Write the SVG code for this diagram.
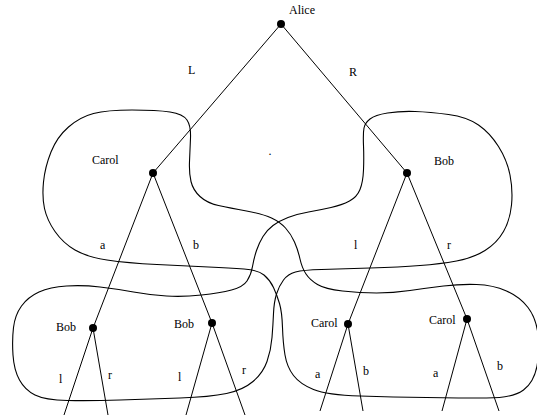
<svg xmlns="http://www.w3.org/2000/svg" width="537" height="419" viewBox="0 0 537 419">
<style>
.t{font-family:"Liberation Serif","Times New Roman",serif;font-size:12px;fill:#000}
.e{stroke:#000;stroke-width:1;fill:none}
.b{stroke:#000;stroke-width:1.1;fill:none}
.d{fill:#000}
</style>
<rect width="537" height="419" fill="#fff"/>
<g id="infosets">
<path id="carol-set" class="b" d="M93.5,113.5 Q107,110 132,110 Q157,110 170,112 Q183,114 187,120 Q191,126 190.5,138 Q190,150 189.5,161.5 Q189,173 191,181.5 Q193,190 200,196.5 Q207,203 218.5,205.5 Q230,208 246.5,211 Q263,214 271.5,218 Q280,222 285.5,228 Q291,234 294.5,242 Q298,250 300,259 Q302,268 306,274 Q310,280 317.5,284.5 Q325,289 342.5,291 Q360,293 376.5,293 Q393,293 410,290.5 Q427,288 443.5,286 Q460,284 476.5,284.5 Q493,285 506.5,291 Q520,297 528,307.5 Q536,318 538,334 Q540,350 537,366 Q534,382 523.5,390 Q513,398 486.5,398 Q460,398 426.5,397.5 Q393,397 360,396 Q327,395 313.5,389.5 Q300,384 293.5,375.5 Q287,367 285,355 Q283,343 282.5,327.5 Q282,312 279.5,303.5 Q277,295 273.5,287.5 Q270,280 264,275 Q258,270 244,269 Q230,268 208.5,267 Q187,266 157,264.5 Q127,263 107,260 Q87,257 75,250 Q63,243 55,231.5 Q47,220 44.5,208.5 Q42,197 43.5,182 Q45,167 51,152 Q57,137 68.5,127 Q80,117 93.5,113.5 Z"/>
<path id="bob-set" class="b" d="M364,128 Q365,123 370,119 Q375,115 387.5,113 Q400,111 415,111.5 Q430,112 448.5,114.5 Q467,117 478.5,125 Q490,133 498.5,146.5 Q507,160 510,175 Q513,190 511.5,205 Q510,220 503.5,231.5 Q497,243 485,250.5 Q473,258 456.5,261 Q440,264 420,265.5 Q400,267 370,268 Q340,269 321.5,269.5 Q303,270 295.5,272 Q288,274 283.5,280 Q279,286 276.5,294 Q274,302 273.5,313.5 Q273,325 272,337.5 Q271,350 267,361.5 Q263,373 253,381.5 Q243,390 226.5,393.5 Q210,397 180,398 Q150,399 120,400 Q90,401 67.5,400.5 Q45,400 35,395 Q25,390 19.5,380 Q14,370 13,355 Q12,340 13.5,327.5 Q15,315 21.5,306 Q28,297 39,292 Q50,287 66.5,286 Q83,285 100,287 Q117,289 133.5,292 Q150,295 166.5,296 Q183,297 201.5,295 Q220,293 231.5,290 Q243,287 247,281 Q251,275 252.5,266.5 Q254,258 256.5,250.5 Q259,243 263,236.5 Q267,230 273,225.5 Q279,221 288,217.5 Q297,214 308.5,212 Q320,210 331,207.5 Q342,205 349.5,201 Q357,197 360,189.5 Q363,182 363.5,170 Q364,158 363.5,145.5 Q363,133 364,128 Z"/>
</g>
<g id="connectors">
<line class="e" x1="281" y1="24" x2="153" y2="173"/>
<line class="e" x1="281" y1="24" x2="407" y2="173"/>
<line class="e" x1="153" y1="173" x2="93" y2="328"/>
<line class="e" x1="153" y1="173" x2="212" y2="323"/>
<line class="e" x1="407" y1="173" x2="348" y2="324"/>
<line class="e" x1="407" y1="173" x2="467" y2="319"/>
<line class="e" x1="93" y1="328" x2="64" y2="415"/>
<line class="e" x1="93" y1="328" x2="108" y2="415"/>
<line class="e" x1="212" y1="323" x2="186" y2="415"/>
<line class="e" x1="212" y1="323" x2="245" y2="415"/>
<line class="e" x1="348" y1="324" x2="320" y2="411"/>
<line class="e" x1="348" y1="324" x2="363" y2="411"/>
<line class="e" x1="467" y1="319" x2="442" y2="411"/>
<line class="e" x1="467" y1="319" x2="499" y2="411"/>
</g>
<g id="edge-labels">
<text class="t" x="188" y="74">L</text>
<text class="t" x="349" y="76">R</text>
<text class="t" x="100" y="249">a</text>
<text class="t" x="193" y="249">b</text>
<text class="t" x="354" y="249">l</text>
<text class="t" x="447" y="249">r</text>
<text class="t" x="59" y="383">l</text>
<text class="t" x="108" y="379">r</text>
<text class="t" x="178" y="381">l</text>
<text class="t" x="242" y="374">r</text>
<text class="t" x="315" y="378">a</text>
<text class="t" x="363" y="375">b</text>
<text class="t" x="433" y="377">a</text>
<text class="t" x="497" y="370">b</text>
<text class="t" x="268.5" y="154.5">.</text>
</g>
<g id="alice"><circle class="d" cx="281" cy="24" r="4"/><text class="t" x="289" y="14">Alice</text></g>
<g id="carol"><circle class="d" cx="153" cy="173" r="4"/><text class="t" x="92" y="164">Carol</text></g>
<g id="bob"><circle class="d" cx="407" cy="173" r="4"/><text class="t" x="434" y="165">Bob</text></g>
<g id="bob-l"><circle class="d" cx="93" cy="328" r="4"/><text class="t" x="56" y="331">Bob</text></g>
<g id="bob-r"><circle class="d" cx="212" cy="323" r="4"/><text class="t" x="174" y="328">Bob</text></g>
<g id="carol-l"><circle class="d" cx="348" cy="324" r="4"/><text class="t" x="311" y="327">Carol</text></g>
<g id="carol-r"><circle class="d" cx="467" cy="319" r="4"/><text class="t" x="429" y="324">Carol</text></g>
</svg>
